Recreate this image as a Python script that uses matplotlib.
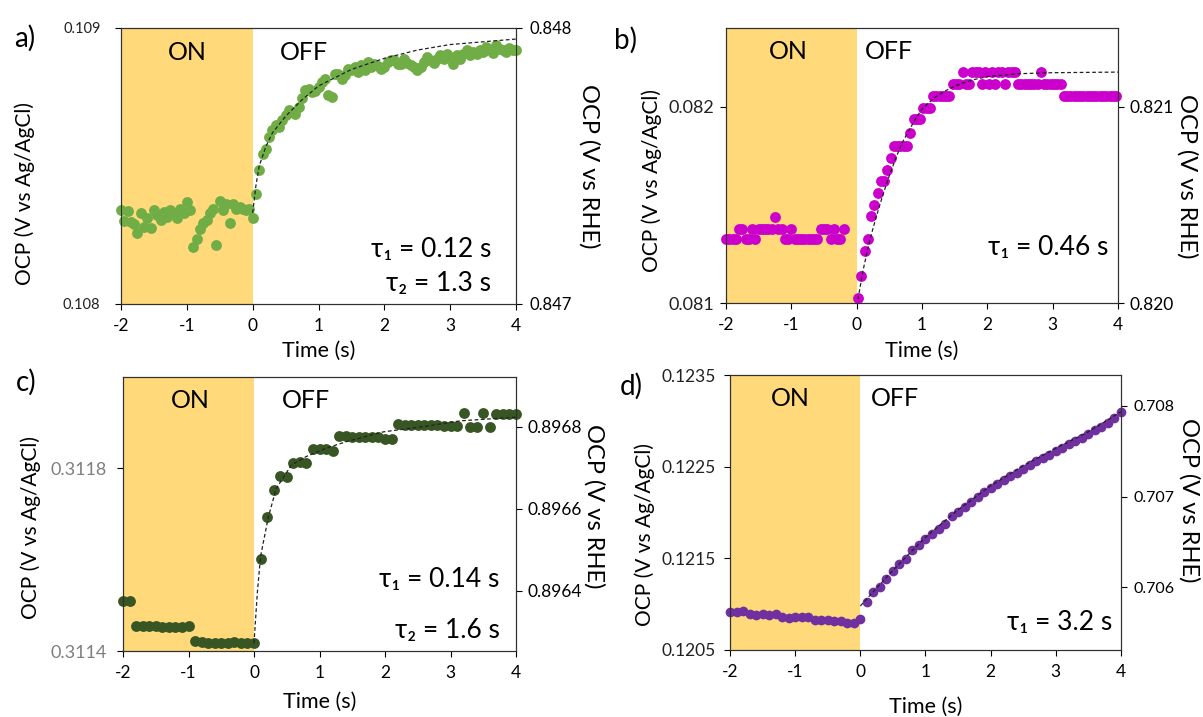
import matplotlib
matplotlib.use("Agg")
import matplotlib.pyplot as plt
import numpy as np

plt.rcParams['font.family'] = ['Lato', 'DejaVu Sans']

# ---------------- data ----------------
x_ticks = [-2, -1, 0, 1, 2, 3, 4]
x_ticklabels = ['-2', '-1', '0', '1', '2', '3', '4']

# panel a
a_t = [-2.00, -1.95, -1.90, -1.85, -1.80, -1.75, -1.70, -1.65, -1.60, -1.55,
       -1.50, -1.45, -1.40, -1.35, -1.30, -1.25, -1.20, -1.15, -1.10, -1.05,
       -1.00, -0.95, -0.90, -0.85, -0.80, -0.75, -0.70, -0.65, -0.60, -0.55,
       -0.50, -0.45, -0.40, -0.35, -0.30, -0.25, -0.20, -0.15, -0.10, -0.05,
       0.00, 0.05, 0.10, 0.15, 0.20, 0.25, 0.30, 0.35, 0.40, 0.45,
       0.50, 0.55, 0.60, 0.65, 0.70, 0.75, 0.80, 0.85, 0.90, 0.95,
       1.00, 1.05, 1.10, 1.15, 1.20, 1.25, 1.30, 1.35, 1.40, 1.45,
       1.50, 1.55, 1.60, 1.65, 1.70, 1.75, 1.80, 1.85, 1.90, 1.95,
       2.00, 2.05, 2.10, 2.15, 2.20, 2.25, 2.30, 2.35, 2.40, 2.45,
       2.50, 2.55, 2.60, 2.65, 2.70, 2.75, 2.80, 2.85, 2.90, 2.95,
       3.00, 3.05, 3.10, 3.15, 3.20, 3.25, 3.30, 3.35, 3.40, 3.45,
       3.50, 3.55, 3.60, 3.65, 3.70, 3.75, 3.80, 3.85, 3.90, 3.95, 4.00]
a_v = [0.108340, 0.108302, 0.108337, 0.108298, 0.108290, 0.108256, 0.108328, 0.108280, 0.108310, 0.108274,
       0.108340, 0.108322, 0.108304, 0.108334, 0.108316, 0.108340, 0.108328, 0.108310, 0.108346, 0.108328,
       0.108370, 0.108340, 0.108207, 0.108234, 0.108270, 0.108294, 0.108304, 0.108328, 0.108346, 0.108214,
       0.108374, 0.108340, 0.108362, 0.108294, 0.108364, 0.108346, 0.108352, 0.108346, 0.108340, 0.108343,
       0.108310, 0.108398, 0.108485, 0.108545, 0.108563, 0.108606, 0.108630, 0.108648, 0.108642, 0.108666,
       0.108684, 0.108702, 0.108696, 0.108688, 0.108715, 0.108748, 0.108777, 0.108780, 0.108768, 0.108772,
       0.108787, 0.108805, 0.108817, 0.108756, 0.108750, 0.108832, 0.108835, 0.108817, 0.108829, 0.108853,
       0.108847, 0.108859, 0.108841, 0.108865, 0.108847, 0.108877, 0.108859, 0.108871, 0.108862, 0.108853,
       0.108859, 0.108877, 0.108885, 0.108883, 0.108868, 0.108871, 0.108889, 0.108873, 0.108865, 0.108859,
       0.108847, 0.108859, 0.108877, 0.108895, 0.108883, 0.108873, 0.108889, 0.108901, 0.108889, 0.108907,
       0.108895, 0.108871, 0.108901, 0.108889, 0.108907, 0.108919, 0.108901, 0.108913, 0.108907, 0.108922,
       0.108913, 0.108931, 0.108919, 0.108910, 0.108937, 0.108925, 0.108919, 0.108913, 0.108928, 0.108922, 0.108919]
a_fit_t = [0.0, 0.05, 0.10, 0.20, 0.30, 0.50, 0.75, 1.0, 1.5, 2.0, 2.5, 3.0, 3.5, 4.0]
a_fit_v = [0.10833, 0.10843, 0.10850, 0.10857, 0.10862, 0.10868, 0.10874, 0.10879,
           0.10885, 0.10889, 0.10892, 0.10894, 0.10895, 0.10896]
a_yticks = [0.108, 0.109]
a_yticklabels = ['0.108', '0.109']
a_rticks = [0.847, 0.848]
a_rticklabels = ['0.847', '0.848']

# panel b
b_t = [-2.00, -1.95, -1.90, -1.85, -1.80, -1.75, -1.70, -1.65, -1.60, -1.55,
       -1.50, -1.45, -1.40, -1.35, -1.30, -1.25, -1.20, -1.15, -1.10, -1.05,
       -1.00, -0.95, -0.90, -0.85, -0.80, -0.75, -0.70, -0.65, -0.60, -0.55,
       -0.50, -0.45, -0.40, -0.35, -0.30, -0.25, -0.20,
       0.02, 0.07, 0.12, 0.17, 0.22, 0.27, 0.32, 0.37, 0.42, 0.47,
       0.52, 0.57, 0.62, 0.67, 0.72, 0.77, 0.82, 0.87, 0.92, 0.97,
       1.02, 1.07, 1.12, 1.17, 1.22, 1.27, 1.32, 1.37, 1.42, 1.47,
       1.52, 1.57, 1.62, 1.67, 1.72, 1.77, 1.82, 1.87, 1.92, 1.97,
       2.02, 2.07, 2.12, 2.17, 2.22, 2.27, 2.32, 2.37, 2.42, 2.47,
       2.52, 2.57, 2.62, 2.67, 2.72, 2.77, 2.82, 2.87, 2.92, 2.97,
       3.02, 3.07, 3.12, 3.17, 3.22, 3.27, 3.32, 3.37, 3.42, 3.47,
       3.52, 3.57, 3.62, 3.67, 3.72, 3.77, 3.82, 3.87, 3.92, 3.97]
b_v = [0.081324, 0.081324, 0.081324, 0.081324, 0.081375, 0.081375, 0.081324, 0.081324, 0.081375, 0.081324,
       0.081375, 0.081375, 0.081375, 0.081375, 0.081375, 0.081440, 0.081375, 0.081375, 0.081324, 0.081324,
       0.081375, 0.081324, 0.081324, 0.081324, 0.081324, 0.081324, 0.081324, 0.081324, 0.081324, 0.081375,
       0.081375, 0.081375, 0.081324, 0.081375, 0.081324, 0.081324, 0.081375,
       0.081025, 0.081140, 0.081265, 0.081328, 0.081443, 0.081502, 0.081561, 0.081620, 0.081620, 0.081679,
       0.081738, 0.081802, 0.081802, 0.081802, 0.081802, 0.081802, 0.081865, 0.081941, 0.081941, 0.081941,
       0.081997, 0.081997, 0.081997, 0.082056, 0.082056, 0.082056, 0.082056, 0.082056, 0.082056, 0.082118,
       0.082118, 0.082118, 0.082179, 0.082118, 0.082118, 0.082179, 0.082179, 0.082179, 0.082118, 0.082179,
       0.082118, 0.082179, 0.082118, 0.082179, 0.082179, 0.082118, 0.082179, 0.082179, 0.082179, 0.082118,
       0.082118, 0.082118, 0.082118, 0.082118, 0.082118, 0.082118, 0.082179, 0.082118, 0.082118, 0.082118,
       0.082118, 0.082118, 0.082118, 0.082056, 0.082056, 0.082056, 0.082056, 0.082056, 0.082056, 0.082056,
       0.082056, 0.082056, 0.082056, 0.082056, 0.082056, 0.082056, 0.082056, 0.082056, 0.082056, 0.082056]
b_fit_t = [0.02, 0.1, 0.2, 0.3, 0.4, 0.5, 0.6, 0.7, 0.8, 0.9, 1.0, 1.2, 1.4, 1.6, 1.8, 2.0, 2.5, 3.0, 4.0]
b_fit_v = [0.08102, 0.08117, 0.08132, 0.08144, 0.08155, 0.08165, 0.08174, 0.08182, 0.08188, 0.08194,
           0.08199, 0.08205, 0.08209, 0.08212, 0.08214, 0.082155, 0.08217, 0.082175, 0.082178]
b_yticks = [0.081, 0.082]
b_yticklabels = ['0.081', '0.082']
b_rticks = [0.820, 0.821]
b_rticklabels = ['0.820', '0.821']

# panel c
c_t = [-2.0, -1.9, -1.8, -1.7, -1.6, -1.5, -1.4, -1.3, -1.2, -1.1,
       -1.0, -0.9, -0.8, -0.7, -0.6, -0.5, -0.4, -0.3, -0.2, -0.1,
       0.0, 0.1, 0.2, 0.3, 0.4, 0.5, 0.6, 0.7, 0.8, 0.9,
       1.0, 1.1, 1.2, 1.3, 1.4, 1.5, 1.6, 1.7, 1.8, 1.9,
       2.0, 2.1, 2.2, 2.3, 2.4, 2.5, 2.6, 2.7, 2.8, 2.9,
       3.0, 3.1, 3.2, 3.3, 3.4, 3.5, 3.6, 3.7, 3.8, 3.9, 4.0]
c_v = [0.311510, 0.311510, 0.311455, 0.311455, 0.311455, 0.311455, 0.311453, 0.311453, 0.311453, 0.311453,
       0.311455, 0.311422, 0.311420, 0.311418, 0.311418, 0.311418, 0.311418, 0.311420, 0.311417, 0.311417,
       0.311417, 0.311601, 0.311693, 0.311753, 0.311783, 0.311782, 0.311811, 0.311813, 0.311811, 0.311842,
       0.311842, 0.311842, 0.311839, 0.311871, 0.311870, 0.311868, 0.311868, 0.311868, 0.311868, 0.311868,
       0.311865, 0.311865, 0.311896, 0.311894, 0.311894, 0.311894, 0.311894, 0.311894, 0.311894, 0.311892,
       0.311892, 0.311892, 0.311922, 0.311891, 0.311891, 0.311922, 0.311891, 0.311919, 0.311919, 0.311919, 0.311919]
c_fit_t = [0.0, 0.05, 0.1, 0.22, 0.34, 0.57, 0.8, 1.1, 1.4, 1.98, 2.57, 3.15, 4.0]
c_fit_v = [0.311417, 0.311526, 0.311607, 0.311694, 0.311756, 0.311807, 0.311826, 0.311844,
           0.311858, 0.311880, 0.311891, 0.311904, 0.311912]
c_yticks = [0.3114, 0.3118]
c_yticklabels = ['0.3114', '0.3118']
c_rticks = [0.8964, 0.8966, 0.8968]
c_rticklabels = ['0.8964', '0.8966', '0.8968']

# panel d
d_t = [-2.0, -1.9, -1.8, -1.7, -1.6, -1.5, -1.4, -1.3, -1.2, -1.1,
       -1.0, -0.9, -0.8, -0.7, -0.6, -0.5, -0.4, -0.3, -0.2, -0.1,
       0.0, 0.1, 0.2, 0.3, 0.4, 0.5, 0.6, 0.7, 0.8, 0.9,
       1.0, 1.1, 1.2, 1.3, 1.4, 1.5, 1.6, 1.7, 1.8, 1.9,
       2.0, 2.1, 2.2, 2.3, 2.4, 2.5, 2.6, 2.7, 2.8, 2.9,
       3.0, 3.1, 3.2, 3.3, 3.4, 3.5, 3.6, 3.7, 3.8, 3.9, 4.0]
d_v = [0.120912, 0.120912, 0.120923, 0.120894, 0.120886, 0.120894, 0.120886, 0.120894, 0.120857, 0.120850,
       0.120857, 0.120865, 0.120865, 0.120828, 0.120828, 0.120828, 0.120821, 0.120813, 0.120792, 0.120792,
       0.120839, 0.121021, 0.121131, 0.121185, 0.121276, 0.121360, 0.121433, 0.121495, 0.121586, 0.121641,
       0.121714, 0.121769, 0.121823, 0.121878, 0.121958, 0.122005, 0.122060, 0.122115, 0.122170, 0.122224,
       0.122268, 0.122315, 0.122352, 0.122399, 0.122436, 0.122479, 0.122516, 0.122560, 0.122596, 0.122632,
       0.122673, 0.122709, 0.122745, 0.122778, 0.122818, 0.122855, 0.122899, 0.122935, 0.122979, 0.123026, 0.123099]
d_fit_t = [0.0, 0.5, 1.0, 1.5, 2.0, 2.5, 3.0, 3.5, 4.0]
d_fit_v = [0.12098, 0.12137, 0.12173, 0.12203, 0.12229, 0.12251, 0.12270, 0.12288, 0.12310]
d_yticks = [0.1205, 0.1215, 0.1225, 0.1235]
d_yticklabels = ['0.1205', '0.1215', '0.1225', '0.1235']
d_rticks = [0.706, 0.707, 0.708]
d_rticklabels = ['0.706', '0.707', '0.708']

# ---------------- layout / style ----------------
W, H = 1203, 717
fig = plt.figure(figsize=(W / 100, H / 100), dpi=100)

def rect(l, r, t, b):
    return [l / W, 1 - b / H, (r - l) / W, (b - t) / H]

SHADE = '#FFD97A'

panels = [
    dict(label='a)', lab_xy=(25, 38), rect=rect(121, 516, 28, 304),
         t=a_t, v=a_v, ft=a_fit_t, fv=a_fit_v, color='#70AD47',
         ylim=(0.108, 0.109), rlim=(0.847, 0.848),
         yt=a_yticks, ytl=a_yticklabels, rt=a_rticks, rtl=a_rticklabels,
         ytcol='#222222', ytfs=10.5, ytpad=10.5, rtfs=12, rtpad=5.5, ms=7.8,
         xpad=10, xly=-0.133,
         on_x=-1.0, off_x=0.78,
         tau=['τ₁ = 0.12 s', 'τ₂ = 1.3 s'], tau_x=3.62, tau_y=[0.196, 0.076],
         ylx=-0.218, yly=0.40, rlx=1.212, rly=0.50),
    dict(label='b)', lab_xy=(626, 40), rect=rect(726, 1118, 28, 303),
         t=b_t, v=b_v, ft=b_fit_t, fv=b_fit_v, color='#CC00CC',
         ylim=(0.081, 0.082403), rlim=(0.820, 0.821403),
         yt=b_yticks, ytl=b_yticklabels, rt=b_rticks, rtl=b_rticklabels,
         ytcol='#222222', ytfs=13, ytpad=4, rtfs=12.5, rtpad=4, ms=7.8,
         xpad=10, xly=-0.137,
         on_x=-1.05, off_x=0.5,
         tau=['τ₁ = 0.46 s'], tau_x=3.85, tau_y=[0.20],
         ylx=-0.163, yly=0.447, rlx=1.205, rly=0.46),
    dict(label='c)', lab_xy=(26, 382), rect=rect(123, 516, 377, 651),
         t=c_t, v=c_v, ft=c_fit_t, fv=c_fit_v, color='#375623',
         ylim=(0.3114, 0.3120), rlim=(0.896253, 0.896921),
         yt=c_yticks, ytl=c_yticklabels, rt=c_rticks, rtl=c_rticklabels,
         ytcol='#7F7F7F', ytfs=13, ytpad=7.5, rtfs=12.5, rtpad=4, ms=7.8,
         xpad=10, xly=-0.148,
         on_x=-0.97, off_x=0.8,
         tau=['τ₁ = 0.14 s', 'τ₂ = 1.6 s'], tau_x=3.75, tau_y=[0.26, 0.075],
         ylx=-0.208, yly=0.45, rlx=1.226, rly=0.53),
    dict(label='d)', lab_xy=(631, 386), rect=rect(730, 1121, 375, 650),
         t=d_t, v=d_v, ft=d_fit_t, fv=d_fit_v, color='#7030A0',
         ylim=(0.1205, 0.1235), rlim=(0.70531, 0.70834),
         yt=d_yticks, ytl=d_yticklabels, rt=d_rticks, rtl=d_rticklabels,
         ytcol='#222222', ytfs=12.5, ytpad=6, rtfs=11.5, rtpad=4.5, ms=7.0,
         xpad=10, xly=-0.170,
         on_x=-1.08, off_x=0.53,
         tau=['τ₁ = 3.2 s'], tau_x=3.86, tau_y=[0.10],
         ylx=-0.192, yly=0.42, rlx=1.202, rly=0.545),
]

for p in panels:
    ax = fig.add_axes(p['rect'])
    ax.axvspan(-2, 0, color=SHADE, lw=0, zorder=0)
    ax.plot(p['t'], p['v'], 'o', color=p['color'], ms=p['ms'], mew=0,
            clip_on=False, zorder=3)
    ax.plot(p['ft'], p['fv'], '--', color='#222222', lw=0.9,
            dashes=(3, 2), zorder=4, clip_on=False)
    ax.set_xlim(-2, 4)
    ax.set_ylim(*p['ylim'])
    ax.set_xticks(x_ticks, x_ticklabels)
    ax.set_yticks(p['yt'], p['ytl'])
    ax.tick_params(axis='x', direction='out', length=4.3, width=0.8,
                   labelsize=12.5, pad=p['xpad'] - 4, colors='black')
    ax.tick_params(axis='y', direction='out', length=4.3, width=0.8,
                   labelsize=p['ytfs'], labelcolor=p['ytcol'], pad=p['ytpad'])
    for s in ax.spines.values():
        s.set_linewidth(0.8)
        s.set_color('#303030')
    ax.set_xlabel('Time (s)', fontsize=15.5, labelpad=0)
    ax.set_ylabel('OCP (V vs Ag/AgCl)', fontsize=15)
    ax.yaxis.set_label_coords(p['ylx'], p['yly'])
    ax.xaxis.set_label_coords(0.5, p['xly'])

    ax2 = ax.twinx()
    ax2.set_ylim(*p['rlim'])
    ax2.set_yticks(p['rt'], p['rtl'])
    ax2.tick_params(axis='y', direction='out', length=4.3, width=0.8,
                    labelsize=p['rtfs'], pad=p['rtpad'])
    for s in ax2.spines.values():
        s.set_linewidth(0.8)
        s.set_color('#303030')
    ax2.set_ylabel('OCP (V vs RHE)', fontsize=17, rotation=270)
    ax2.yaxis.set_label_coords(p['rlx'], p['rly'])

    ax.text(p['on_x'], 0.913, 'ON', transform=ax.get_xaxis_transform(),
            ha='center', va='center', fontsize=18)
    ax.text(p['off_x'], 0.913, 'OFF', transform=ax.get_xaxis_transform(),
            ha='center', va='center', fontsize=18)
    for line, yy in zip(p['tau'], p['tau_y']):
        ax.text(p['tau_x'], yy, line, transform=ax.get_xaxis_transform(),
                ha='right', va='center', fontsize=19)

    fig.text(p['lab_xy'][0] / W, 1 - p['lab_xy'][1] / H, p['label'],
             ha='center', va='center', fontsize=20)

fig.savefig('out.png', dpi=100)
